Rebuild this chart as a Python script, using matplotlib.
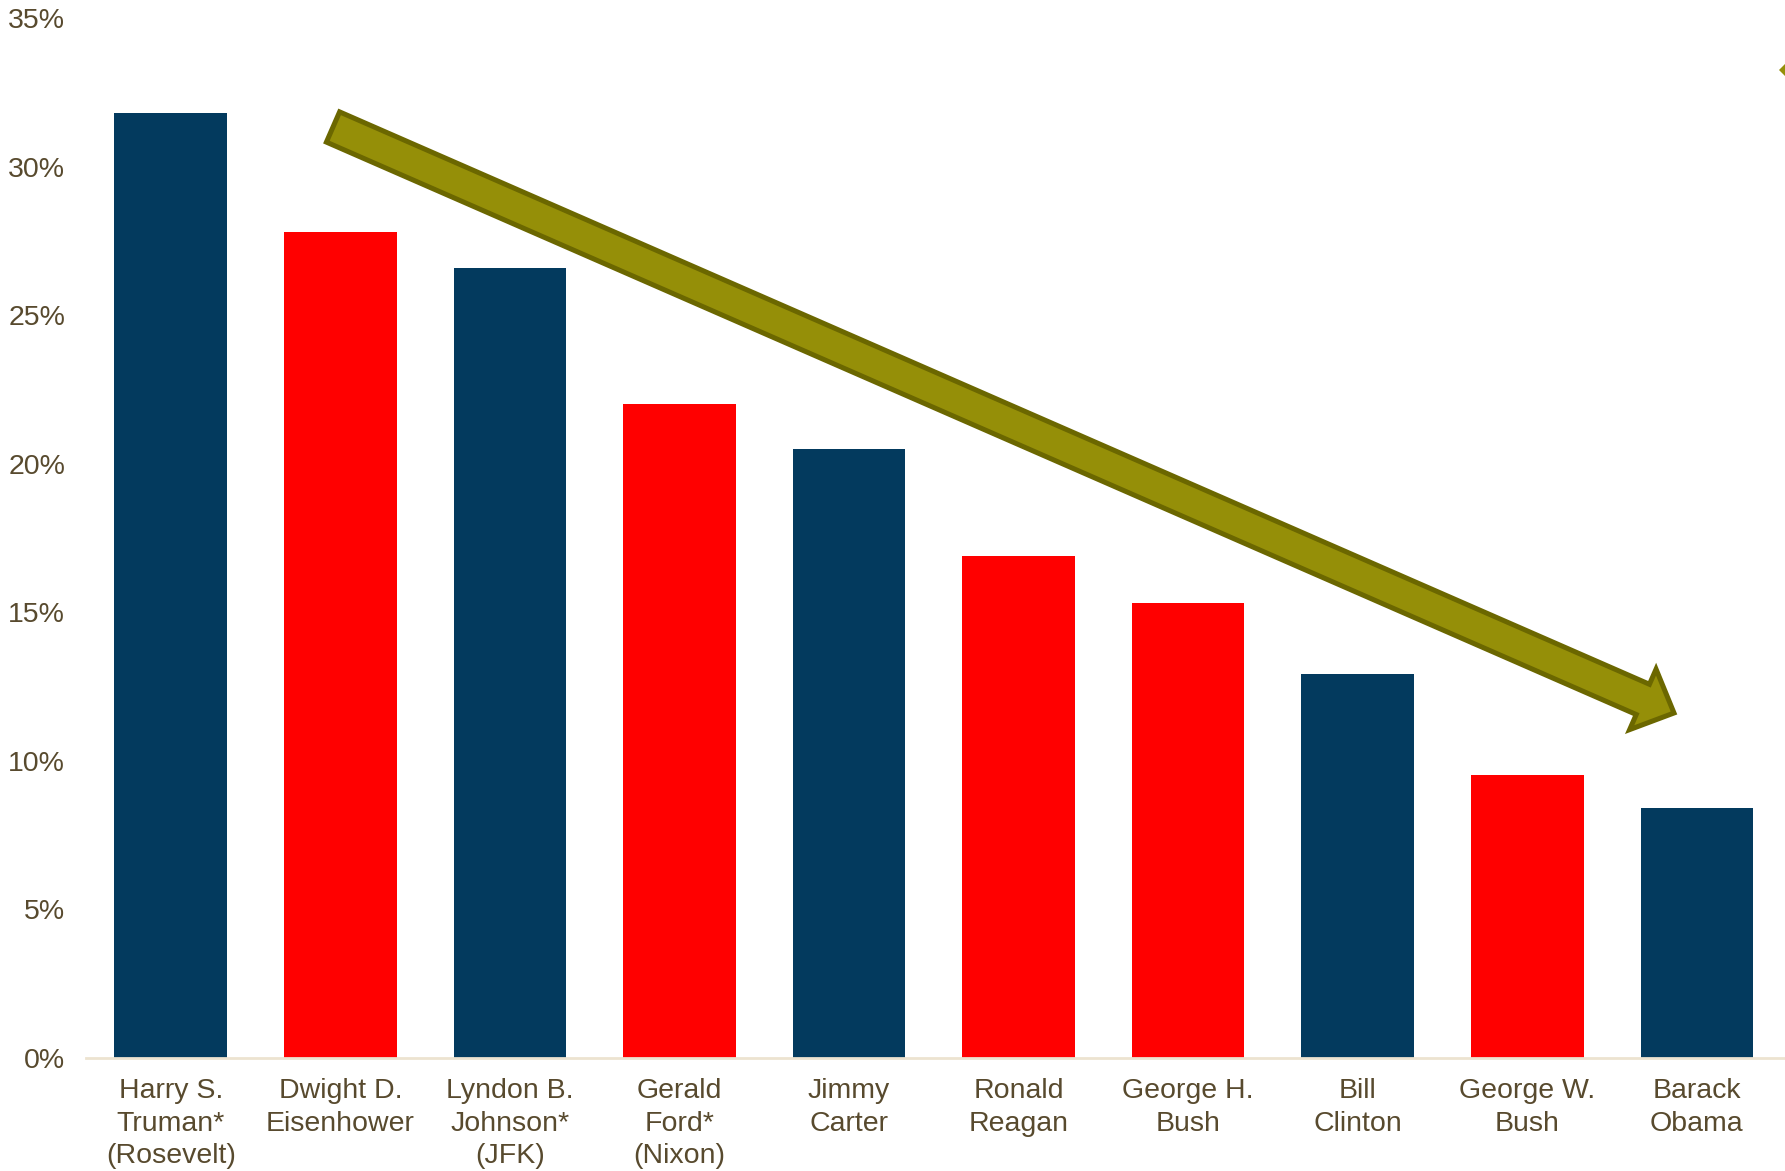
import numpy as np
import matplotlib.pyplot as plt
from matplotlib.patches import FancyArrow, Polygon
from matplotlib.transforms import IdentityTransform

plt.rcParams['font.family'] = ['Liberation Sans', 'DejaVu Sans']

presidents = ['Harry S.\nTruman*\n(Rosevelt)', 'Dwight D.\nEisenhower', 'Lyndon B.\nJohnson*\n(JFK)',
              'Gerald\nFord*\n(Nixon)', 'Jimmy\nCarter', 'Ronald\nReagan', 'George H.\nBush',
              'Bill\nClinton', 'George W.\nBush', 'Barack\nObama']
values = [31.8, 27.8, 26.6, 22.0, 20.5, 16.9, 15.3, 12.9, 9.5, 8.4]
party = ['D', 'R', 'D', 'R', 'D', 'R', 'R', 'D', 'R', 'D']

navy = '#033A5E'
red = '#FF0000'
txt = '#584A2E'
olive = '#958F08'
olive_dark = '#6B6700'

W, H = 1785, 1171
fig = plt.figure(figsize=(W / 100, H / 100), dpi=100)
ax = fig.add_axes([86 / W, (H - 1057.6) / H, (W - 86) / W, (1057.6 - 18) / H])

idx = np.arange(len(values))
colors = [navy if p == 'D' else red for p in party]
ax.bar(idx, values, width=0.664, color=colors)

ax.set_xlim(-0.5, 9.52)
ax.set_ylim(0, 35)
ax.set_yticks(range(0, 36, 5))
ax.set_yticklabels(['%d%%' % v for v in range(0, 36, 5)])
ax.set_xticks(idx)
ax.set_xticklabels(presidents, linespacing=1.32)

for s in ['top', 'right', 'left']:
    ax.spines[s].set_visible(False)
ax.spines['bottom'].set_color('#EDE3D0')
ax.spines['bottom'].set_linewidth(2)
ax.tick_params(axis='both', length=0, labelsize=20.5, colors=txt)
ax.tick_params(axis='y', pad=15)
ax.tick_params(axis='x', pad=15)

# trend arrow (pixel coords, y from top)
x0, y0 = 333, 127
x1, y1 = 1674, 713
arr = FancyArrow(x0, H - y0, x1 - x0, -(y1 - y0), width=33, head_width=66,
                 head_length=34, length_includes_head=True,
                 facecolor=olive, edgecolor=olive_dark, linewidth=3.6,
                 transform=IdentityTransform())
fig.add_artist(arr)

# partial shape at top right edge
dia = Polygon([[1779, H - 70], [1786, H - 63], [1793, H - 70], [1786, H - 77]],
              closed=True, facecolor=olive, edgecolor='none',
              transform=IdentityTransform())
fig.add_artist(dia)

fig.savefig('out.png', dpi=100)
